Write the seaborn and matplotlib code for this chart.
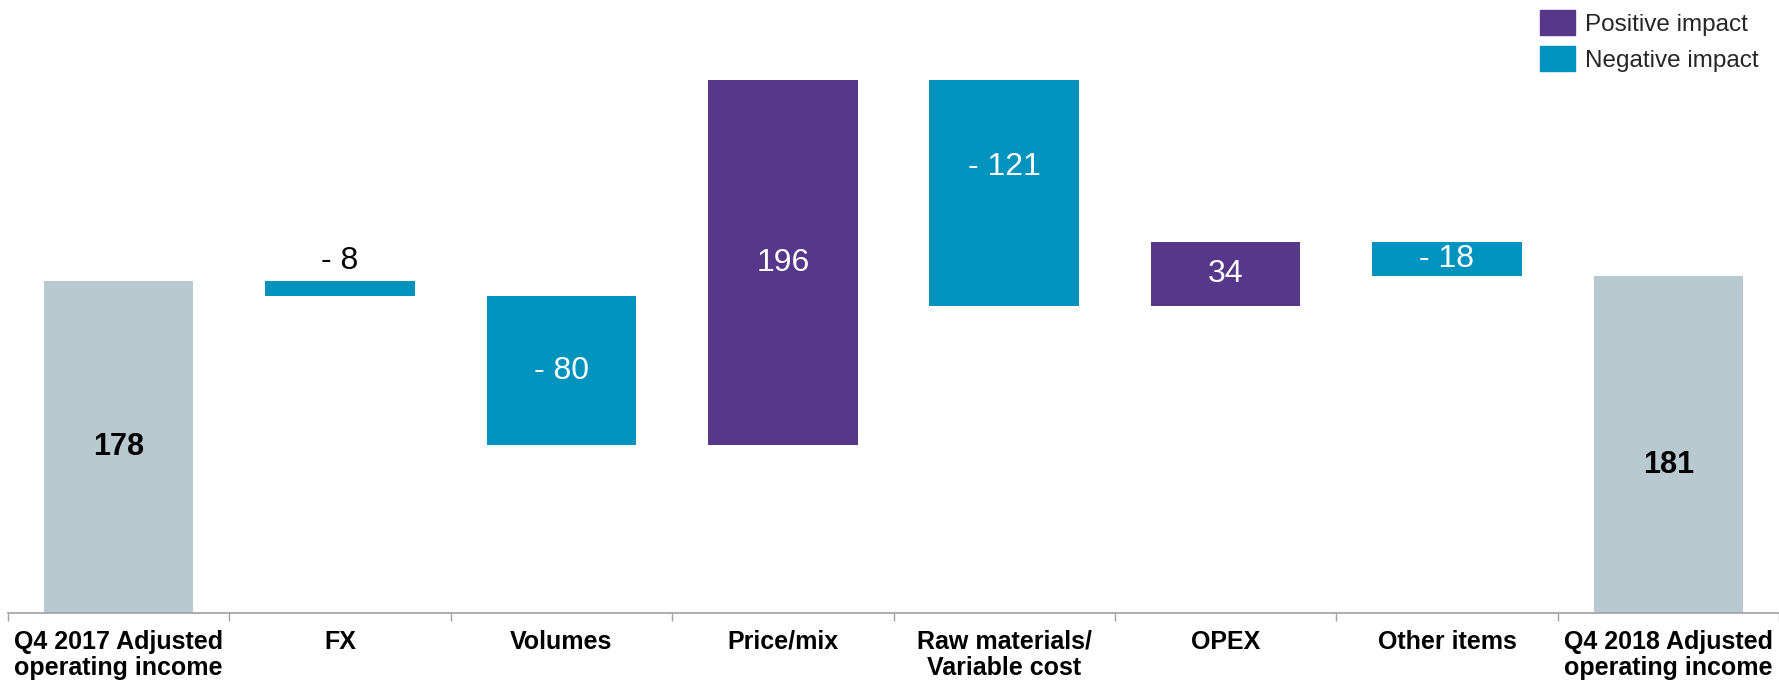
import matplotlib
matplotlib.use("Agg")
import matplotlib.pyplot as plt
from matplotlib.patches import Patch
from matplotlib import font_manager
import seaborn as sns
import numpy as np

categories = ["Q4 2017 Adjusted\noperating income", "FX", "Volumes", "Price/mix",
              "Raw materials/\nVariable cost", "OPEX", "Other items",
              "Q4 2018 Adjusted\noperating income"]
values = [178, -8, -80, 196, -121, 34, -18, 181]
kinds = ["total", "delta", "delta", "delta", "delta", "delta", "delta", "total"]
value_labels = ["178", "- 8", "- 80", "196", "- 121", "34", "- 18", "181"]

sns.set_theme(style="white")
names = {f.name for f in font_manager.fontManager.ttflist}
narrow = "Liberation Sans Narrow" if "Liberation Sans Narrow" in names else "Liberation Sans"
plt.rcParams["font.family"] = ["Liberation Sans", "DejaVu Sans"]

POS = "#573789"
NEG = "#0093BD"
TOT = "#B9C9D0"

# waterfall geometry from values
bottoms, heights, colors = [], [], []
run = 0
for v, k in zip(values, kinds):
    if k == "total":
        bottoms.append(0); heights.append(v); colors.append(TOT); run = v
    else:
        if v >= 0:
            bottoms.append(run); heights.append(v); colors.append(POS)
        else:
            bottoms.append(run + v); heights.append(-v); colors.append(NEG)
        run += v

fig = plt.figure(figsize=(17.79, 6.83), dpi=100)
ax = fig.add_axes([0.0045, 0.1025, 0.9955, 0.8975])

x = np.arange(len(categories))
sns.barplot(x=x, y=heights, bottom=bottoms, color=TOT, width=0.675,
            native_scale=True, ax=ax, linewidth=0)
for p, c in zip(ax.patches, colors):
    p.set_facecolor(c)
    p.set_edgecolor(c)

# labels
offsets = [0, 0, 0, 0, 14, 0, 0, -11]
for i, (b, h, lab, k) in enumerate(zip(bottoms, heights, value_labels, kinds)):
    if k == "total":
        ax.text(i, b + h / 2 + offsets[i], lab, ha="center", va="center",
                fontsize=22, fontweight="bold", color="black")
    elif h < 12 and i == 1:
        ax.text(i, b + h + 11, lab, ha="center", va="center",
                fontsize=23, color="black")
    else:
        ax.text(i, b + h / 2 + offsets[i], lab, ha="center", va="center",
                fontsize=23, color="white")

ax.set_xlim(-0.5, len(categories) - 0.5)
ax.set_ylim(0, 329)
ax.set_yticks([])
ax.set_xticks(np.arange(len(categories) + 1) - 0.5)
ax.set_xticklabels([])
ax.set_xticks(x, minor=True)
ax.set_xticklabels(categories, minor=True, fontsize=18, fontweight="bold",
                   family=narrow, color="black", linespacing=1.1)
ax.tick_params(axis="x", which="major", length=6, width=1, color="#A0A0A0",
               direction="out", bottom=True)
ax.tick_params(axis="x", which="minor", length=0, pad=12)
for s in ["top", "right", "left"]:
    ax.spines[s].set_visible(False)
ax.spines["bottom"].set_color("#A0A0A0")
ax.spines["bottom"].set_linewidth(1.2)
ax.set_xlabel("")
ax.set_ylabel("")

handles = [Patch(facecolor=POS, edgecolor=POS, label="Positive impact"),
           Patch(facecolor=NEG, edgecolor=NEG, label="Negative impact")]
fig.legend(handles=handles, loc="upper right", bbox_to_anchor=(0.997, 1.006),
           frameon=False, fontsize=17.5, handlelength=1.4, handleheight=1.2,
           handletextpad=0.45, labelspacing=0.4, borderaxespad=0.2)

fig.savefig("out.png", dpi=100)
